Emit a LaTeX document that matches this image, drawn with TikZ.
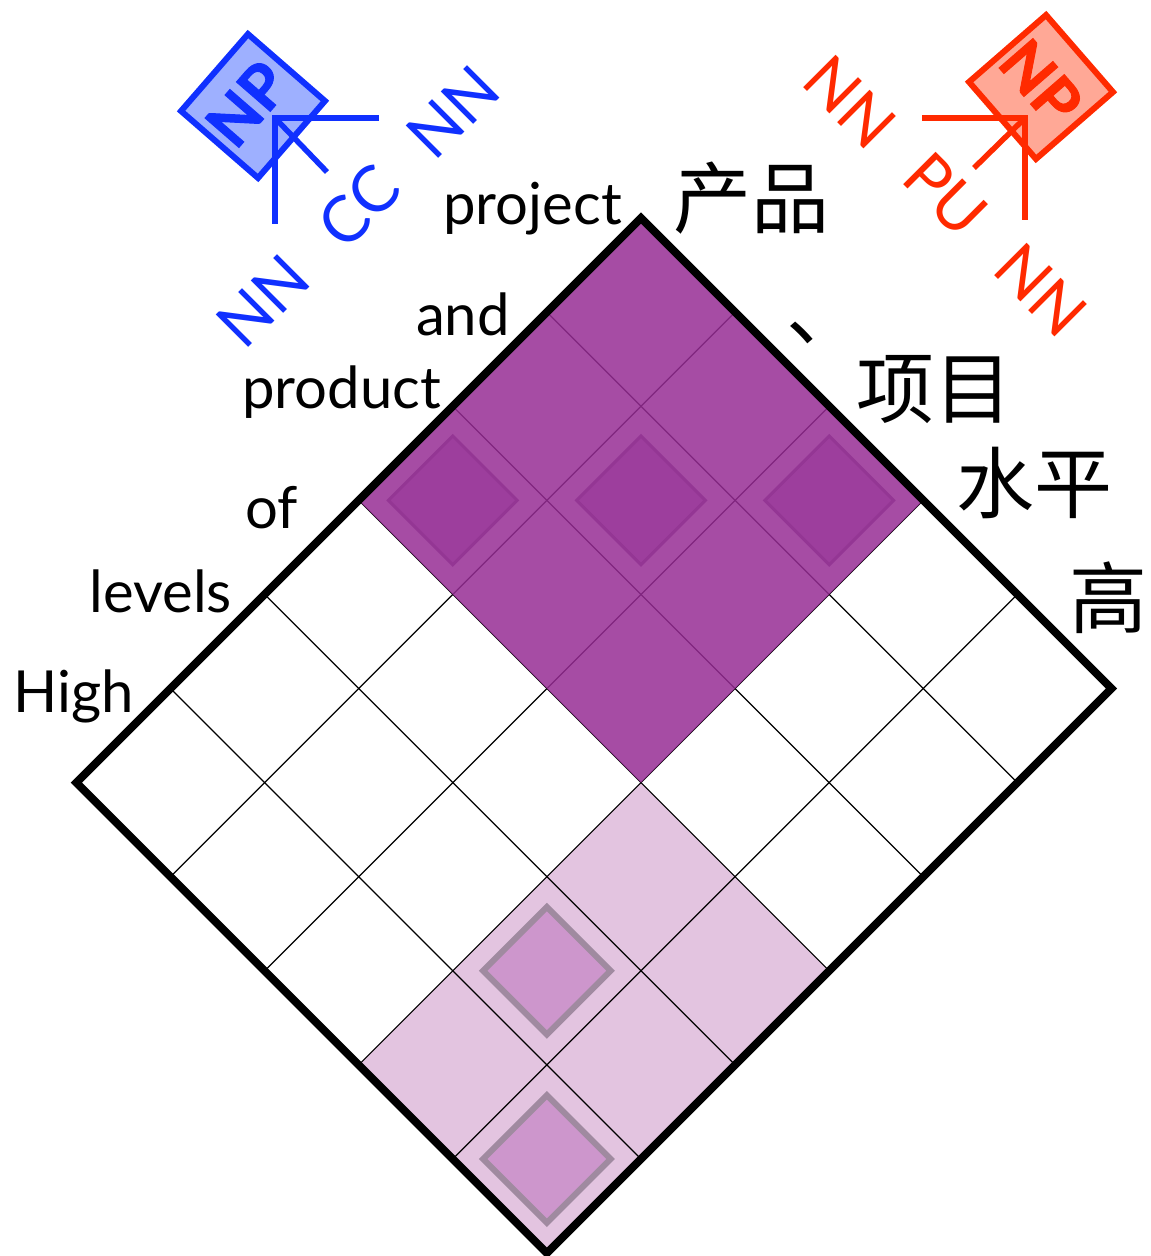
\documentclass[tikz,border=0pt]{standalone}
\usepackage{fontspec}
\setmainfont{Lato}
\newfontfamily\cjk{Noto Sans CJK SC}
\usetikzlibrary{calc,shapes.geometric}
\definecolor{tblue}{RGB}{16,48,255}
\definecolor{tbluefill}{RGB}{158,176,255}
\definecolor{tred}{RGB}{255,42,0}
\definecolor{tredfill}{RGB}{255,168,150}
\definecolor{darkp}{RGB}{151,45,149}
\definecolor{darkinfill}{RGB}{157,62,157}
\definecolor{darkinline}{RGB}{148,54,148}
\definecolor{lightp}{RGB}{227,196,224}
\definecolor{lightinfill}{RGB}{205,150,204}
\definecolor{lightinline}{RGB}{160,138,160}
\begin{document}
\begin{tikzpicture}[x=1pt,y=-1pt,
  eng/.style={font=\fontsize{58}{60}\selectfont, anchor=base east, inner sep=0pt},
  zh/.style={font=\cjk\fontsize{78}{80}\selectfont, inner sep=0pt},
  btag/.style={text=tblue, font=\fontsize{64}{66}\selectfont, rotate=45, inner sep=0pt},
  rtag/.style={text=tred, font=\fontsize{64}{66}\selectfont, rotate=-45, inner sep=0pt},
  gridline/.style={line width=1.2pt, draw=black},
  darkinner/.style={shape=diamond, minimum width=130pt, minimum height=130pt, inner sep=0pt, fill=darkinfill, draw=darkinline, line width=3pt},
  lightinner/.style={shape=diamond, minimum width=130pt, minimum height=130pt, inner sep=0pt, fill=lightinfill, draw=lightinline, line width=6pt},
  bline/.style={draw=tblue, line width=5.5pt, line join=miter},
  rline/.style={draw=tred, line width=5.5pt, line join=miter},
  npbox/.style={minimum width=102pt, minimum height=102pt, inner sep=0pt, line width=6pt},
  nplab/.style={font=\bfseries\addfontfeatures{FakeBold=1.6}\fontsize{62}{64}\selectfont, inner sep=0pt}
]
\useasboundingbox (0,0) rectangle (1151,1256);
\fill[white] (0,0) rectangle (1151,1256);
\foreach \i in {0,...,6}{\foreach \j in {0,...,5}{
  \coordinate (p\i\j) at ({641-94.1*(\i-\j)},{218+94.1*(\i+\j)});}}
\coordinate (c43) at ($(p43)!0.5!(p54)$);
\coordinate (c54) at ($(p54)!0.5!(p65)$);
\coordinate (c20) at ($(p20)!0.5!(p31)$);
\coordinate (c11) at ($(p11)!0.5!(p22)$);
\coordinate (c02) at ($(p02)!0.5!(p13)$);
% light region
\fill[lightp] (p33) -- (p35) -- (p65) -- (p63) -- cycle;
\node[lightinner] (li1) at (c43) {};
\node[lightinner] (li2) at (c54) {};
% grid
\foreach \i in {1,...,5} \draw[gridline] (p\i0) -- (p\i5);
\foreach \j in {1,...,4} \draw[gridline] (p0\j) -- (p6\j);
% dark region
\fill[darkp, fill opacity=0.85] (p00) -- (p03) -- (p33) -- (p30) -- cycle;
\node[darkinner] (di1) at (c20) {};
\node[darkinner] (di2) at (c11) {};
\node[darkinner] (di3) at (c02) {};
% border
\draw[line width=8pt, line join=miter] (p00) -- (p05) -- (p65) -- (p60) -- cycle;
% english words
\node[eng] (w1) at (622,224) {project};
\node[eng] (w2) at (510,335) {and};
\node[eng] (w3) at (441,408) {product};
\node[eng] (w4) at (298,528) {of};
\node[eng] (w5) at (232,612) {levels};
\node[eng] (w6) at (134,712) {High};
% chinese words
\node[zh] (z1) at (751,198) {产品};
\node[zh, anchor=base west] (z2) at (786,339) {、};
\node[zh] (z3) at (934,390) {项目};
\node[zh] (z4) at (1034,483) {水平};
\node[zh] (z5) at (1108,598) {高};
% blue tree
\node[npbox, draw=tblue, fill=tbluefill, rotate=49] (bnp) at (253,106) {};
\node[nplab, text=tblue, rotate=49] (bnpl) at (247,104) {NP};
\coordinate (bj) at (275,118);
\coordinate (bv) at (275,224);
\coordinate (bh) at (379,118);
\coordinate (bd) at (327,172);
\draw[bline] (bh) -- (bj) -- (bv);
\draw[bline] (bj) -- (bd);
\node[btag] (bt1) at (453,112) {NN};
\node[btag] (bt2) at (359,206) {CC};
\node[btag] (bt3) at (263,301) {NN};
% red tree
\node[npbox, draw=tred, fill=tredfill, rotate=41] (rnp) at (1041,87) {};
\node[nplab, text=tred, rotate=-49] (rnpl) at (1041,82) {NP};
\coordinate (rj) at (1025,118);
\coordinate (rv) at (1025,220);
\coordinate (rh) at (922,118);
\coordinate (rd) at (974,168);
\draw[rline] (rh) -- (rj) -- (rv);
\draw[rline] (rj) -- (rd);
\node[rtag] (rt1) at (850,102) {NN};
\node[rtag] (rt2) at (946,195) {PU};
\node[rtag] (rt3) at (1041,290) {NN};
\end{tikzpicture}
\end{document}
